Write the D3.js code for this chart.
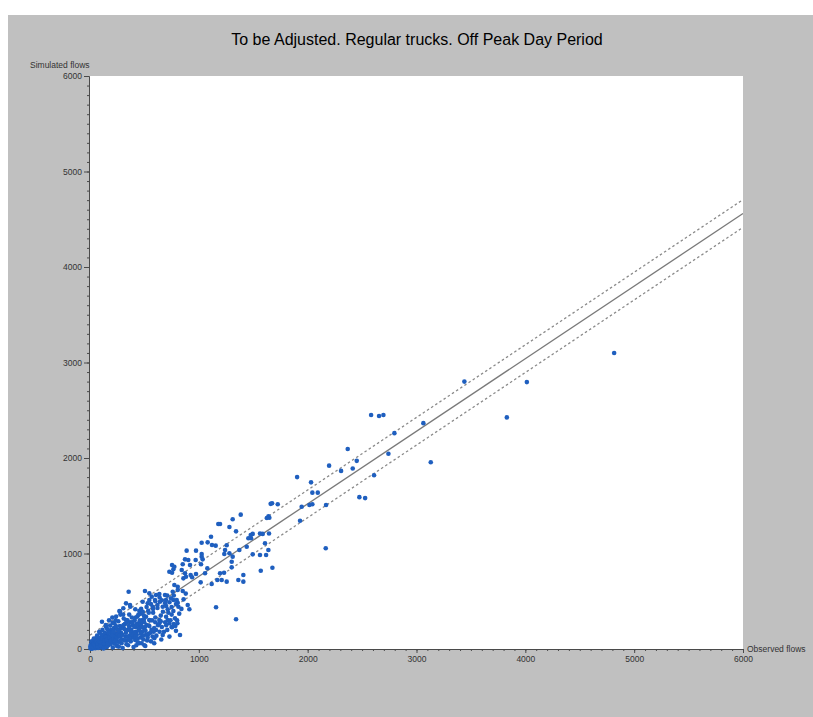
<!DOCTYPE html>
<html>
<head>
<meta charset="utf-8">
<script src="https://cdn.jsdelivr.net/npm/d3@7"></script>
<style>
  body { margin: 0; background: #fff; }
  svg text { font-family: Arial, "Liberation Sans", sans-serif; }
</style>
</head>
<body>
<svg id="chart"></svg>
<script>

var chartTitle = "To be Adjusted. Regular trucks. Off Peak Day Period";
var xLabel = "Observed flows",
    yLabel = "Simulated flows";

var majorTicks = [0, 1000, 2000, 3000, 4000, 5000, 6000];
var minorTicks = d3.range(0, 6001, 100);

// regression line and the two dashed band lines, [observed, simulated]
var fitLine = [[0, 0], [6000, 4560]];
var upperBand = [[0, 145], [6000, 4705]];
var lowerBand = [[190, 0], [6000, 4415]];

// points, [observed, simulated]
var flows = [
  [4816,3100],[4014,2795],[3830,2425],[3440,2800],[3063,2365],[3131,1955],
  [2583,2450],[2656,2440],[2696,2450],[2797,2260],[2742,2045],
  [2368,2095],[2451,1970],[2414,1890],[2307,1865],[2197,1920],[2610,1820],
  [2475,1590],[2528,1580],[2166,1055],
  [1903,1800],[2031,1745],[2043,1637],[2093,1637],[2016,1508],[2043,1515],[1945,1490],[2169,1508],
  [1673,1526],[1660,1520],[1725,1515],[1640,1390],[1648,1375],[1625,1372],[1930,1343],
  [1645,1210],[1562,1210],[1587,1205],[1495,1205],[1480,1159],[1608,1107],[1562,984],[1569,820],[1676,851],
  [1385,1407],[1311,1358],[1281,1277],[1342,1232],[1179,1309],[1195,1309],[1112,1176],[1081,1117],[1155,1082],[1256,1086],
  [1241,1037],[1234,995],[1281,1002],[1311,967],[1372,1037],[1302,914],[1455,1159],[1477,1194],
  [1409,775],[1409,705],[888,1030],[974,1030],[1026,995],[1026,967],[1035,939],[873,939],[903,932],[971,932],
  [852,887],[919,880],[1020,887],[1078,845],[843,827],[873,793],[925,775],[1057,793],[1195,793],
  [1170,723],[1210,723],[1256,705],[1118,681],[1017,698],[1232,799],[858,740],
  [1121,1089],[882,757],[938,751],[974,785],[775,670],[806,618],[852,607],[898,461],[913,416],
  [766,513],[806,485],[827,147],[754,227],[784,241],[766,835],[754,880],
  [1618,984],[1639,1037],[1495,991],[1440,1071],[1302,855],[1363,723],[1158,437],[1342,311],
  [1026,1113],[729,809],[775,862],[754,799],
  [355,600],[505,607],[545,583],[567,548],[597,513],[643,495],
  [744,531],[760,600],[806,652],[689,565],[699,513],[797,513],[812,443],[766,398],
  [607,565],[637,576],[576,443],[668,443],[714,416],[699,338],[714,304],[729,269],
  [637,304],[781,321],[803,269],
  [110,286],[270,398],[331,478],[370,443],[416,416],[453,401],[484,495],[545,513],[530,478],
  [368,461],[306,426],[276,391],
  [637,269],[607,199],[668,147],[591,112],[499,199],[530,147],[515,338],[545,304],[484,304],
  [453,234],[423,181],[453,60],[508,31],[331,304],[361,234],[300,234],[223,269],[193,199],[255,164],
  [147,234],[85,181],[131,129],[55,112],
  [5,5],[12,20],[20,8],[30,35],[8,45],[40,15],[50,50],[25,60],[60,25],[15,80],[70,70],[45,90],
  [80,40],[95,15],[100,95],[35,110],[110,60],[120,130],[65,140],[130,25],[140,80],[150,150],
  [90,170],[160,110],[170,40],[180,190],[115,200],[190,130],[200,70],[210,15],[220,220],[145,250],
  [230,160],[240,100],[250,30],[260,290],[175,300],[270,200],[280,130],[290,60],[300,10],[310,320],
  [205,330],[320,260],[330,170],[340,90],[350,40],[360,360],[240,340],[370,280],[380,200],[390,120],
  [400,20],[410,300],[280,360],[420,230],[430,150],[440,70],[460,370],[470,270],[480,180],[490,100],
  [500,40],[520,250],[540,160],[560,80],[580,380],[590,220],[610,140],[620,430],[650,350],[660,230],
  [680,180],[700,450],[720,380],[740,300],
  [3,25],[18,3],[22,42],[38,28],[48,8],[55,65],[62,48],[75,10],[78,95],[88,55],[92,120],[105,35],
  [108,150],[118,85],[125,5],[135,170],[138,105],[148,55],[155,20],[158,210],[165,140],[172,85],
  [185,245],[188,50],[195,165],[198,100],[208,275],[212,200],[225,130],[228,55],[235,300],[245,210],
  [252,150],[258,75],[265,25],[275,240],[285,170],[295,100],[305,360],[315,210],[325,130],[335,50],
  [345,300],[355,200],[365,140],[375,80],[385,330],[395,250],[405,175],[415,95],[425,40],[435,340],
  [445,270],[455,190],[465,120],[475,60],[485,390],[495,310],[505,230],[515,150],[525,90],[535,400],
  [550,300],[565,200],[575,130],[590,60],[600,330],[625,250],[640,180],[655,100],[670,390],[690,280],
  [710,200],[730,130],[750,360],[770,260],[790,190],
  [10,12],[14,30],[28,18],[33,50],[42,38],[52,22],[58,80],[68,30],[72,55],[85,75],[98,40],[102,70],
  [112,110],[128,60],[133,90],[142,125],[152,95],[162,60],[168,175],[178,120],[192,85],[202,140],
  [215,100],[218,180],[232,90],[238,240],[248,120],[262,190],[268,140],[278,90],[288,220],[298,150],
  [308,250],[318,90],[328,200],[338,280],[348,130],[358,240],[368,100],[378,170],[388,280],[398,150],
  [408,230],[418,130],[428,260],[438,110],[448,210],[458,300],[468,160],[478,230],[488,140],[498,280],
  [510,190],[530,120],[545,240],[555,170],[570,300],[585,180],
  [420,330],[445,360],[470,420],[495,350],[520,440],[540,380],[560,470],[580,420],[600,500],[620,460],
  [640,540],[660,510],[690,480],[710,560],[730,490],[750,440],[770,560],[790,470],[600,280],[650,290],
  [700,250],[750,230],[800,300],[820,370],[840,420],[860,520],[880,580]
];

var width = 813,
    height = 717;

var svg = d3.select("#chart")
  .attr("width", width)
  .attr("height", height);

// grey panel
svg.append("rect")
  .attr("x", 8)
  .attr("y", 15)
  .attr("width", width - 8)
  .attr("height", height - 15)
  .style("fill", "#c0c0c0");

var x = d3.scaleLinear().domain([0, 6000]).range([90, 743]);
var y = d3.scaleLinear().domain([0, 6000]).range([649, 76]);

svg.append("rect")
  .attr("x", x(0))
  .attr("y", y(6000))
  .attr("width", x(6000) - x(0))
  .attr("height", y(0) - y(6000))
  .style("fill", "#ffffff");

svg.append("clipPath")
  .attr("id", "plotClip")
  .append("rect")
  .attr("x", x(0))
  .attr("y", y(6000))
  .attr("width", x(6000) - x(0))
  .attr("height", y(0) - y(6000));

svg.append("text")
  .attr("x", 417)
  .attr("y", 45)
  .attr("text-anchor", "middle")
  .style("font-size", "16px")
  .style("fill", "#000")
  .text(chartTitle);

// axes: minor ticks every 100, labelled ticks every 1000
function styleAxis(g) {
  g.selectAll("path, line").style("stroke", "#4a4a4a");
  g.selectAll("text")
    .style("font-size", "8.5px")
    .style("font-family", "Arial, 'Liberation Sans', sans-serif")
    .style("fill", "#333");
}

svg.append("g")
  .attr("transform", "translate(0,649)")
  .call(d3.axisBottom(x).tickValues(minorTicks).tickSize(2).tickSizeOuter(0).tickFormat(""))
  .call(styleAxis);

svg.append("g")
  .attr("transform", "translate(0,649)")
  .call(d3.axisBottom(x).tickValues(majorTicks).tickSize(4).tickSizeOuter(0).tickPadding(3).tickFormat(d3.format("d")))
  .call(styleAxis);

svg.append("g")
  .attr("transform", "translate(89,0)")
  .call(d3.axisLeft(y).tickValues(minorTicks).tickSize(2).tickSizeOuter(0).tickFormat(""))
  .call(styleAxis);

svg.append("g")
  .attr("transform", "translate(89,0)")
  .call(d3.axisLeft(y).tickValues(majorTicks).tickSize(5).tickSizeOuter(0).tickPadding(2).tickFormat(d3.format("d")))
  .call(styleAxis);

svg.append("text")
  .attr("x", 30)
  .attr("y", 68)
  .style("font-size", "8.5px")
  .style("fill", "#333")
  .text(yLabel);

svg.append("text")
  .attr("x", 747)
  .attr("y", 652)
  .style("font-size", "8.5px")
  .style("fill", "#333")
  .text(xLabel);

// lines
var line = d3.line()
  .x(function (d) { return x(d[0]); })
  .y(function (d) { return y(d[1]); });

var lines = svg.append("g").attr("clip-path", "url(#plotClip)");

lines.append("path")
  .attr("d", line(fitLine))
  .style("fill", "none")
  .style("stroke", "#7a7a7a")
  .style("stroke-width", 1.3);

[upperBand, lowerBand].forEach(function (band) {
  lines.append("path")
    .attr("d", line(band))
    .style("fill", "none")
    .style("stroke", "#8a8a8a")
    .style("stroke-width", 1.3)
    .style("stroke-dasharray", "2.5,2.5");
});

// points
svg.append("g")
  .selectAll("circle")
  .data(flows)
  .enter()
  .append("circle")
  .attr("cx", function (d) { return x(d[0]); })
  .attr("cy", function (d) { return y(d[1]); })
  .attr("r", 2.3)
  .style("fill", "#1f5fbf");

</script>
</body>
</html>
